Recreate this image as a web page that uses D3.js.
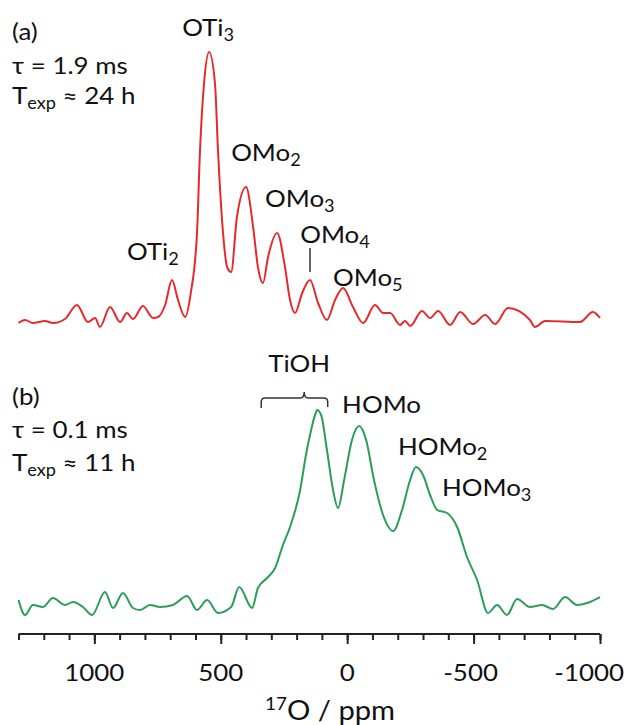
<!DOCTYPE html>
<html>
<head>
<meta charset="utf-8">
<script src="https://cdn.jsdelivr.net/npm/d3@7"></script>
<style>
  html, body { margin: 0; padding: 0; background: #fff; }
  svg { display: block; }
  text { font-family: Lato, "Open Sans", sans-serif; fill: #111; }
</style>
</head>
<body>
<svg id="chart" width="629" height="725"></svg>
<script>
// ---- data ----
const ppmA = [1300,1274,1243,1195,1164,1116,1069,1025,997,978,938,898,871,847,808,768,748,720,693,669,641,618,594,582,566,546,523,511,491,475,459,436,400,372,353,333,313,277,246,226,206,178,147,115,80,48,16,-23,-63,-110,-142,-170,-209,-229,-249,-296,-328,-360,-407,-447,-498,-546,-585,-636,-723,-743,-783,-921,-972,-1000];
const intA = [-1,2,-1,1,-1,3,17,0,4,-5,15,0,9,3,16,4,5,17,42,22,5,30,89,172,239,270,239,172,89,55,50,105,135,95,55,39,65,89,55,22,9,29,42,19,2,22,34,15,-1,17,9,9,-3,1,-4,11,4,11,-3,10,-2,7,-2,14,2,-5,1,0,10,4];

const ppmB = [1300,1274,1243,1203,1164,1116,1084,1045,1009,958,926,887,847,819,780,740,689,633,594,554,511,459,427,376,353,317,285,254,226,186,163,147,123,119,103,80,56,36,12,-19,-47,-75,-106,-142,-182,-217,-249,-272,-300,-328,-356,-395,-415,-435,-474,-514,-557,-593,-632,-672,-723,-771,-814,-862,-909,-949,-1000];
const intB = [5,-10,0,-2,7,0,3,-2,-10,13,-3,12,-3,-5,0,-2,0,9,-5,5,-8,-2,18,-3,17,27,37,60,78,115,150,170,193,195,190,155,115,97,125,165,179,165,125,90,74,95,125,138,130,110,95,92,87,78,48,25,-8,0,-10,6,-2,0,-4,8,0,2,8];

const majorTicks = [1000, 500, 0, -500, -1000];
const minorTicks = d3.range(1300, -1001, -100);

// annotations: [parts, ppm (left edge or centre), baseline y px, anchor]
const annotationsA = [
  [[["OTi",""],["3","sub"]], 550, 36, "middle"],
  [[["OMo",""],["2","sub"]], 459, 161, "start"],
  [[["OMo",""],["3","sub"]], 325, 207, "start"],
  [[["OMo",""],["4","sub"]], 186, 243, "start"],
  [[["OMo",""],["5","sub"]], 56, 286, "start"],
  [[["OTi",""],["2","sub"]], 871, 260, "start"]
];
const annotationsB = [
  [[["TiOH",""]], 190, 372, "middle"],
  [[["HOMo",""]], 20, 413, "start"],
  [[["HOMo",""],["2","sub"]], -201, 455, "start"],
  [[["HOMo",""],["3","sub"]], -375, 496, "start"]
];

// ---- setup ----
const svg = d3.select("#chart");
const K = 1.08;      // horizontal text stretch
const FS = 24;

const x = d3.scaleLinear().domain([1300, -1000]).range([18.5, 600]);
const yA = d3.scaleLinear().domain([0, 270]).range([322, 52]);
const yB = d3.scaleLinear().domain([0, 195]).range([605, 410]);

function label(g, px, py, parts, anchor, fs) {
  fs = fs || FS;
  const t = g.append("text")
    .attr("transform", `translate(${px},${py}) scale(${K},1)`)
    .attr("text-anchor", anchor || "start")
    .attr("font-size", fs);
  let shift = 0;
  parts.forEach(([s, type]) => {
    const ts = t.append("tspan").text(s);
    let target = 0, size = fs;
    if (type === "sub") { target = 5; size = fs * 0.7; }
    if (type === "sup") { target = -10; size = fs * 0.65; }
    ts.attr("dy", target - shift).attr("font-size", size);
    shift = target;
  });
  return t;
}

// ---- spectra ----
const lineA = d3.line().x((d, i) => x(ppmA[i])).y((d, i) => yA(intA[i])).curve(d3.curveMonotoneX);
const lineB = d3.line().x((d, i) => x(ppmB[i])).y((d, i) => yB(intB[i])).curve(d3.curveMonotoneX);

svg.append("path").datum(intA).attr("d", lineA)
  .attr("fill", "none").attr("stroke", "#e52a2e").attr("stroke-width", 2).attr("stroke-linejoin", "round");
svg.append("path").datum(intB).attr("d", lineB)
  .attr("fill", "none").attr("stroke", "#2a9d58").attr("stroke-width", 2).attr("stroke-linejoin", "round");

// ---- axis ----
const axisY = 634;
const axG = svg.append("g").attr("transform", `translate(0,${axisY})`);
axG.call(d3.axisBottom(x).tickValues(minorTicks).tickSize(6).tickFormat(""));
axG.call(g => g.select(".domain").attr("d", `M${x(1300)},0H${x(-1000)}`));
const axMaj = svg.append("g").attr("transform", `translate(0,${axisY})`)
  .call(d3.axisBottom(x).tickValues(majorTicks).tickSize(10).tickFormat(""));
axMaj.select(".domain").remove();
svg.selectAll(".tick line").attr("stroke", "#222").attr("stroke-width", 2);
svg.selectAll(".domain").attr("stroke", "#222").attr("stroke-width", 2);

majorTicks.forEach(v => {
  if (v === -1000) label(svg, 624, 681, [[String(v), ""]], "end");
  else label(svg, x(v) - (v < 0 ? 3 : 0), 681, [[String(v), ""]], "middle");
});
label(svg, 330, 720, [["17", "sup"], ["O / ppm", ""]], "middle", 27);

// ---- panel texts ----
label(svg, 12, 40, [["(a)", ""]]);
label(svg, 12, 74, [["τ = 1.9 ms", ""]]);
label(svg, 12, 104, [["T", ""], ["exp", "sub"], [" ≈ 24 h", ""]]);
label(svg, 12, 405, [["(b)", ""]]);
label(svg, 12, 438, [["τ = 0.1 ms", ""]]);
label(svg, 12, 471, [["T", ""], ["exp", "sub"], [" ≈ 11 h", ""]]);

annotationsA.forEach(([parts, ppm, py, anchor]) => label(svg, x(ppm), py, parts, anchor));
annotationsB.forEach(([parts, ppm, py, anchor]) => label(svg, x(ppm), py, parts, anchor));

// OMo4 marker line
svg.append("line").attr("x1", x(147)).attr("x2", x(147)).attr("y1", 248).attr("y2", 272)
  .attr("stroke", "#333").attr("stroke-width", 1.5);

// TiOH bracket
const bl = x(340), bc = x(170), br = x(77);
svg.append("path")
  .attr("d", `M${bl},408 L${bl},402 Q${bl},398 ${bl+4},398 L${bc-4},398 Q${bc},398 ${bc},392 Q${bc},398 ${bc+4},398 L${br-4},398 Q${br},398 ${br},402 L${br},407`)
  .attr("fill", "none").attr("stroke", "#333").attr("stroke-width", 1.5);
</script>
</body>
</html>
